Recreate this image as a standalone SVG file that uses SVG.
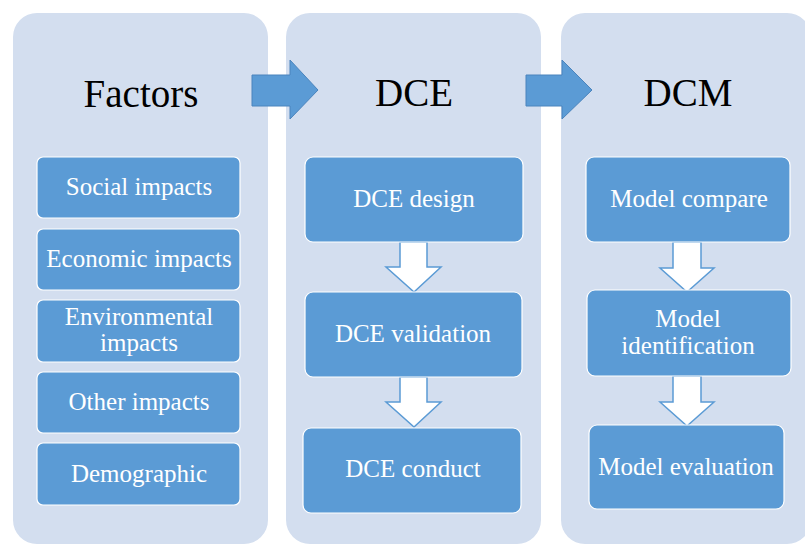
<svg xmlns="http://www.w3.org/2000/svg" width="805" height="544" viewBox="0 0 805 544">
<style>
.panel{fill:#d3deef;}
.box{fill:#5b9bd5;stroke:#ffffff;stroke-width:1.2;}
.bigarrow{fill:#5b9bd5;stroke:#4a84bd;stroke-width:1;}
.downarrow{fill:#ffffff;stroke:#5b9bd5;stroke-width:1.5;stroke-linejoin:miter;}
</style>
<rect width="805" height="544" fill="#ffffff"/>
<g id="panel-factors">
<rect class="panel" x="13" y="13" width="255" height="531" rx="24"/>
<text x="141" y="107" font-family="Liberation Serif" font-size="39" fill="#000000" text-anchor="middle">Factors</text>
</g>
<g id="panel-dce">
<rect class="panel" x="286" y="13" width="255" height="531" rx="24"/>
<text x="414" y="106" font-family="Liberation Serif" font-size="39" fill="#000000" text-anchor="middle">DCE</text>
</g>
<g id="panel-dcm">
<rect class="panel" x="561" y="13" width="250" height="531" rx="24"/>
<text x="688" y="106" font-family="Liberation Serif" font-size="39" fill="#000000" text-anchor="middle">DCM</text>
</g>
<g id="connectors">
<path class="bigarrow" d="M252,75 L290,75 L290,60 L318,90 L290,119 L290,106 L252,106 Z"/>
<path class="bigarrow" d="M526,75 L562,75 L562,60 L592,90 L562,119 L562,106 L526,106 Z"/>
<path class="downarrow" d="M400,242 L427,242 L427,267 L441,267 L414,292 L386,267 L400,267 Z"/>
<path class="downarrow" d="M400,377 L427,377 L427,402 L441,402 L414,427 L386,402 L400,402 Z"/>
<path class="downarrow" d="M673,242 L701,242 L701,268 L714,268 L687,292 L660,268 L673,268 Z"/>
<path class="downarrow" d="M673,376 L701,376 L701,402 L714,402 L687,426 L660,402 L673,402 Z"/>
</g>
<g id="social">
<rect class="box" x="37" y="157" width="203" height="61" rx="6"/>
<text x="139" y="195" font-family="Liberation Serif" font-size="25" fill="#ffffff" text-anchor="middle">Social impacts</text>
</g>
<g id="economic">
<rect class="box" x="37" y="229" width="203" height="61" rx="6"/>
<text x="139" y="267" font-family="Liberation Serif" font-size="25" fill="#ffffff" text-anchor="middle">Economic impacts</text>
</g>
<g id="environmental">
<rect class="box" x="37" y="300" width="203" height="62" rx="6"/>
<text x="139" y="325" font-family="Liberation Serif" font-size="25" fill="#ffffff" text-anchor="middle">Environmental</text>
<text x="139" y="351" font-family="Liberation Serif" font-size="25" fill="#ffffff" text-anchor="middle">impacts</text>
</g>
<g id="other">
<rect class="box" x="37" y="372" width="203" height="61" rx="6"/>
<text x="139" y="410" font-family="Liberation Serif" font-size="25" fill="#ffffff" text-anchor="middle">Other impacts</text>
</g>
<g id="demographic">
<rect class="box" x="37" y="443" width="203" height="62" rx="6"/>
<text x="139" y="482" font-family="Liberation Serif" font-size="25" fill="#ffffff" text-anchor="middle">Demographic</text>
</g>
<g id="dce-design">
<rect class="box" x="305" y="157" width="218" height="85" rx="8"/>
<text x="414" y="207" font-family="Liberation Serif" font-size="25" fill="#ffffff" text-anchor="middle">DCE design</text>
</g>
<g id="dce-validation">
<rect class="box" x="305" y="292" width="217" height="85" rx="8"/>
<text x="413" y="342" font-family="Liberation Serif" font-size="25" fill="#ffffff" text-anchor="middle">DCE validation</text>
</g>
<g id="dce-conduct">
<rect class="box" x="303" y="428" width="218" height="85" rx="8"/>
<text x="413" y="477" font-family="Liberation Serif" font-size="25" fill="#ffffff" text-anchor="middle">DCE conduct</text>
</g>
<g id="model-compare">
<rect class="box" x="586" y="157" width="204" height="85" rx="8"/>
<text x="689" y="207" font-family="Liberation Serif" font-size="25" fill="#ffffff" text-anchor="middle">Model compare</text>
</g>
<g id="model-identification">
<rect class="box" x="587" y="290" width="204" height="86" rx="8"/>
<text x="688" y="327" font-family="Liberation Serif" font-size="25" fill="#ffffff" text-anchor="middle">Model</text>
<text x="688" y="354" font-family="Liberation Serif" font-size="25" fill="#ffffff" text-anchor="middle">identification</text>
</g>
<g id="model-evaluation">
<rect class="box" x="589" y="425" width="195" height="84" rx="8"/>
<text x="686" y="475" font-family="Liberation Serif" font-size="25" fill="#ffffff" text-anchor="middle">Model evaluation</text>
</g>
</svg>
